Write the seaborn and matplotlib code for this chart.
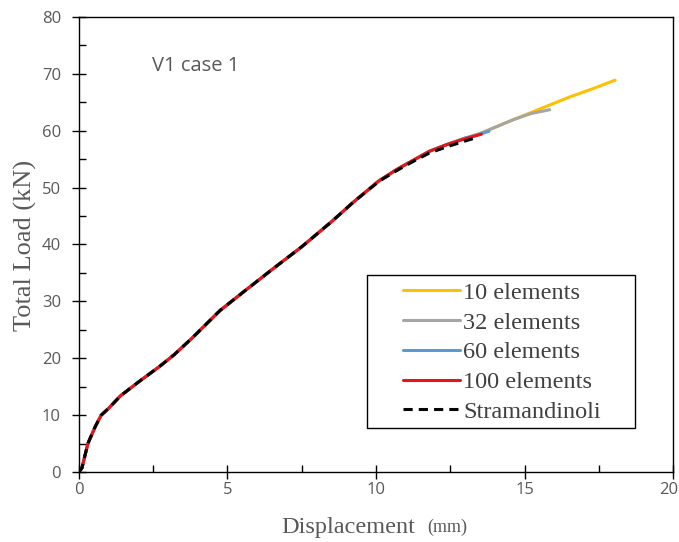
import matplotlib
matplotlib.use("Agg")
import matplotlib.pyplot as plt
import matplotlib.transforms as mtransforms
from matplotlib.patches import Rectangle
from matplotlib.ticker import MultipleLocator
import seaborn as sns

# displacement (mm) / total load (kN) for each mesh
disp_10 = [0, 0.1, 0.3, 0.55, 0.75, 1.0, 1.4, 2.1, 2.7, 3.2, 3.8, 4.75, 5.5, 6.5, 7.5, 8.5, 9.25, 10.1, 10.7, 11.25, 11.8, 12.4, 13.0, 13.5, 14.6, 15.5, 16.5, 17.3, 18.05]
load_10 = [0, 0.7, 5.0, 8.0, 10.0, 11.2, 13.4, 16.2, 18.5, 20.6, 23.5, 28.4, 31.5, 35.6, 39.6, 44.0, 47.5, 51.2, 53.2, 54.8, 56.4, 57.6, 58.7, 59.5, 61.9, 63.8, 65.9, 67.4, 68.9]

disp_32 = [0, 0.1, 0.3, 0.55, 0.75, 1.0, 1.4, 2.1, 2.7, 3.2, 3.8, 4.75, 5.5, 6.5, 7.5, 8.5, 9.25, 10.1, 10.7, 11.25, 11.8, 12.4, 13.0, 13.5, 14.6, 15.2, 15.85]
load_32 = [0, 0.7, 5.0, 8.0, 10.0, 11.2, 13.4, 16.2, 18.5, 20.6, 23.5, 28.4, 31.5, 35.6, 39.6, 44.0, 47.5, 51.2, 53.2, 54.8, 56.4, 57.6, 58.7, 59.5, 61.9, 63.0, 63.7]

disp_60 = [0, 0.1, 0.3, 0.55, 0.75, 1.0, 1.4, 2.1, 2.7, 3.2, 3.8, 4.75, 5.5, 6.5, 7.5, 8.5, 9.25, 10.1, 10.7, 11.25, 11.8, 12.4, 13.0, 13.5, 13.8]
load_60 = [0, 0.7, 5.0, 8.0, 10.0, 11.2, 13.4, 16.2, 18.5, 20.6, 23.5, 28.4, 31.5, 35.6, 39.6, 44.0, 47.5, 51.2, 53.2, 54.8, 56.4, 57.6, 58.7, 59.4, 59.9]

disp_100 = [0, 0.1, 0.3, 0.55, 0.75, 1.0, 1.4, 2.1, 2.7, 3.2, 3.8, 4.75, 5.5, 6.5, 7.5, 8.5, 9.25, 10.1, 10.7, 11.25, 11.8, 12.4, 13.0, 13.55]
load_100 = [0, 0.7, 5.0, 8.0, 10.0, 11.2, 13.4, 16.2, 18.5, 20.6, 23.5, 28.4, 31.5, 35.6, 39.6, 44.0, 47.5, 51.2, 53.2, 54.8, 56.4, 57.6, 58.6, 59.4]

disp_str = [0, 0.1, 0.3, 0.55, 0.75, 1.0, 1.4, 2.1, 2.7, 3.2, 3.8, 4.75, 5.5, 6.5, 7.5, 8.5, 9.25, 10.1, 10.7, 11.25, 11.8, 12.4, 13.0, 13.45]
load_str = [0, 0.7, 5.0, 8.0, 10.0, 11.2, 13.4, 16.2, 18.5, 20.6, 23.5, 28.4, 31.5, 35.6, 39.6, 44.0, 47.5, 51.1, 53.0, 54.6, 56.1, 57.2, 58.2, 58.9]

series = [
    ("10 elements", disp_10, load_10, "#FFC000", "-"),
    ("32 elements", disp_32, load_32, "#A5A5A5", "-"),
    ("60 elements", disp_60, load_60, "#5B9BD5", "-"),
    ("100 elements", disp_100, load_100, "#E8141A", "-"),
    ("Stramandinoli", disp_str, load_str, "black", (0, (3, 2))),
]

sns.set_style("ticks")

fig = plt.figure(figsize=(6.79, 5.42), dpi=100)
ax = fig.add_axes([0.1163, 0.1292, 0.8749, 0.8394])

for name, x, y, color, ls in series:
    sns.lineplot(x=x, y=y, ax=ax, color=color, linestyle=ls, linewidth=2.2,
                 label=name, sort=False, estimator=None)

ax.set_xlim(0, 20)
ax.set_ylim(0, 80)
ax.xaxis.set_major_locator(MultipleLocator(5))
ax.xaxis.set_minor_locator(MultipleLocator(2.5))
ax.yaxis.set_major_locator(MultipleLocator(10))
ax.yaxis.set_minor_locator(MultipleLocator(5))

for s in ax.spines.values():
    s.set_color("black")
    s.set_linewidth(1.0)

ax.tick_params(which="major", direction="inout", length=10, width=1.0,
               colors="black", labelcolor="#595959", labelsize=12,
               top=False, right=False)
ax.tick_params(axis="y", which="major", pad=8)
ax.tick_params(axis="x", which="major", pad=2)
ax.tick_params(which="minor", direction="in", length=5, width=1.0,
               colors="black", top=False, right=False)
fig.canvas.draw()
for lbl in ax.get_xticklabels() + ax.get_yticklabels():
    lbl.set_family("Open Sans")
# the "20" label sits against the figure edge: right-align it just inside
for tick in ax.xaxis.get_major_ticks():
    if abs(tick.get_loc() - 20) < 1e-6:
        tick.label1.set_horizontalalignment("right")
        tick.label1.set_transform(tick.label1.get_transform() +
                                  mtransforms.ScaledTranslation(3.5 / 72, 0, fig.dpi_scale_trans))

ax.text(-0.09, 0.497, "Total Load (kN)", transform=ax.transAxes, rotation=90,
        ha="center", va="center", family="Liberation Serif", fontsize=19,
        color="#595959")
ax.text(0.566, -0.121, "Displacement", transform=ax.transAxes, ha="right",
        va="center", family="Liberation Serif", fontsize=17.5, color="#595959")
ax.text(0.586, -0.121, "(mm)", transform=ax.transAxes, ha="left",
        va="center", family="Liberation Serif", fontsize=13, color="#595959")

ax.text(2.45, 71.3, "V1 case 1", family="Open Sans", fontsize=14.5,
        color="#595959", ha="left", va="center")

leg = ax.legend(loc="upper left", bbox_to_anchor=(0.545, 0.418),
                frameon=False, prop={"family": "Liberation Serif", "size": 17.5},
                handlelength=2.35, handletextpad=0.15, labelspacing=0.32,
                borderpad=0, borderaxespad=0)
for t in leg.get_texts():
    t.set_color("#404040")
ax.add_patch(Rectangle((0.485, 0.0967), 0.451, 0.336, transform=ax.transAxes,
                       fill=False, edgecolor="black", linewidth=1.0, zorder=5))

fig.savefig("out.png", dpi=100)
plt.close(fig)
